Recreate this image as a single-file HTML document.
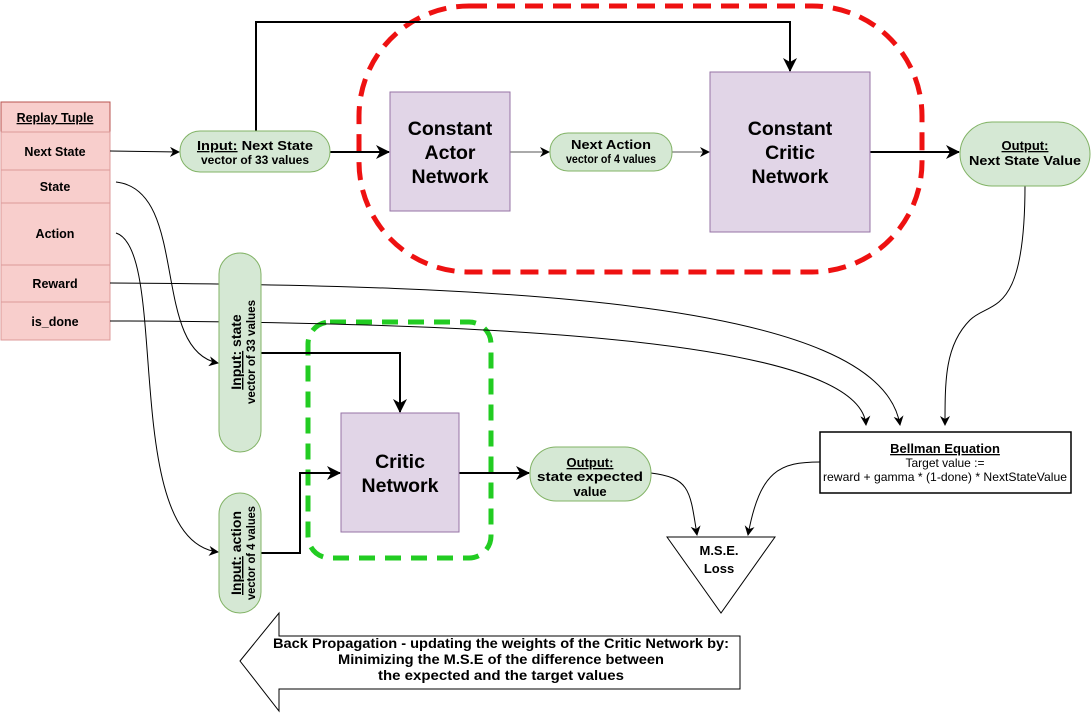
<!DOCTYPE html>
<html><head><meta charset="utf-8"><style>
html,body{margin:0;padding:0;background:#fff;}
svg{display:block;font-family:"Liberation Sans",Arial,sans-serif;}
</style></head><body>
<svg width="1091" height="713" viewBox="0 0 1091 713" xmlns="http://www.w3.org/2000/svg">
<defs>
<marker id="a" markerWidth="10" markerHeight="10" refX="9" refY="5" orient="auto" markerUnits="userSpaceOnUse"><path d="M0,0 L10,5 L0,10 L3,5 z" fill="#000"/></marker>
<marker id="b" markerWidth="14" markerHeight="14" refX="13" refY="7" orient="auto" markerUnits="userSpaceOnUse"><path d="M0,0 L14,7 L0,14 L4,7 z" fill="#000"/></marker>
</defs>

<rect x="359" y="6" width="563" height="266" rx="110" fill="none" stroke="#ee1111" stroke-width="5" stroke-dasharray="18,10"/>
<rect x="308" y="322" width="183" height="236" rx="22" fill="none" stroke="#22cc22" stroke-width="5" stroke-dasharray="16,10"/>

<g stroke="#d99" fill="#f8cecc" stroke-width="1">
<rect x="1" y="102" width="109" height="30" fill="#f8cecc" stroke="#b85450"/>
<rect x="1" y="132" width="109" height="38"/>
<rect x="1" y="170" width="109" height="33"/>
<rect x="1" y="203" width="109" height="62"/>
<rect x="1" y="265" width="109" height="37"/>
<rect x="1" y="302" width="109" height="38"/>
</g>
<g font-size="12.5" font-weight="bold" text-anchor="middle" fill="#000">
<text x="55" y="122" text-decoration="underline">Replay Tuple</text>
<text x="55" y="156">Next State</text>
<text x="55" y="191">State</text>
<text x="55" y="238">Action</text>
<text x="55" y="288">Reward</text>
<text x="55" y="326">is_done</text>
</g>

<g fill="none" stroke="#000" stroke-width="1">
<path d="M110,151 L179,152" marker-end="url(#a)"/>
<path d="M116,182 C190,190 150,350 218,363" marker-end="url(#a)"/>
<path d="M116,233 C170,250 120,540 218,552" marker-end="url(#a)"/>
<path d="M110,283 C500,285 880,300 900,425" marker-end="url(#a)"/>
<path d="M110,321 C500,322 860,340 866,425" marker-end="url(#a)"/>
<path d="M1025,185 C1025,320 990,300 970,320 C945,345 945,380 945,425" marker-end="url(#a)"/>
<path d="M510,152 L549,152" stroke="#555" marker-end="url(#a)"/>
<path d="M672,152 L709,152" stroke="#555" marker-end="url(#a)"/>
<path d="M820,462 C780,462 760,470 748,535" marker-end="url(#a)"/>
<path d="M651,473 C690,478 690,490 697,535" marker-end="url(#a)"/>
</g>
<g fill="none" stroke="#000" stroke-width="2">
<path d="M256,131 L256,22 L790,22 L790,71" marker-end="url(#b)"/>
<path d="M330,152 L389,152" marker-end="url(#b)"/>
<path d="M870,152 L959,152" marker-end="url(#b)"/>
<path d="M261,353 L400,353 L400,412" marker-end="url(#b)"/>
<path d="M261,553 L300,553 L300,473 L340,473" marker-end="url(#b)"/>
<path d="M459,473 L529,473" marker-end="url(#b)"/>
</g>

<g fill="#d5e8d4" stroke="#82b366" stroke-width="1">
<rect x="180" y="131" width="150" height="41" rx="20"/>
<rect x="550" y="133" width="122" height="38" rx="18"/>
<rect x="960" y="122" width="130" height="64" rx="32"/>
<rect x="219" y="253" width="42" height="199" rx="21"/>
<rect x="219" y="493" width="42" height="120" rx="21"/>
<rect x="530" y="447" width="121" height="54" rx="26"/>
</g>
<g font-size="13" font-weight="bold" text-anchor="middle" fill="#000" lengthAdjust="spacingAndGlyphs">
<text x="255" y="150" textLength="116" lengthAdjust="spacingAndGlyphs"><tspan text-decoration="underline">Input:</tspan> Next State</text>
<text x="255" y="164" font-size="12" textLength="108" lengthAdjust="spacingAndGlyphs">vector of 33 values</text>
<text x="611" y="149" textLength="80" lengthAdjust="spacingAndGlyphs">Next Action</text>
<text x="611" y="163" font-size="12" textLength="90" lengthAdjust="spacingAndGlyphs">vector of 4 values</text>
<text x="1025" y="150" text-decoration="underline">Output:</text>
<text x="1025" y="165" textLength="112" lengthAdjust="spacingAndGlyphs">Next State Value</text>
<text x="590" y="467" text-decoration="underline">Output:</text>
<text x="590" y="481" textLength="106" lengthAdjust="spacingAndGlyphs">state expected</text>
<text x="590" y="496">value</text>
<text transform="translate(241,352) rotate(-90)" font-size="14"><tspan text-decoration="underline">Input:</tspan> state</text>
<text transform="translate(255,352) rotate(-90)" font-size="12" textLength="104" lengthAdjust="spacingAndGlyphs">vector of 33 values</text>
<text transform="translate(241,553) rotate(-90)" font-size="14"><tspan text-decoration="underline">Input:</tspan> action</text>
<text transform="translate(255,553) rotate(-90)" font-size="12" textLength="94" lengthAdjust="spacingAndGlyphs">vector of 4 values</text>
</g>

<g fill="#e1d5e7" stroke="#9673a6" stroke-width="1">
<rect x="390" y="92" width="120" height="119"/>
<rect x="710" y="72" width="160" height="160"/>
<rect x="341" y="413" width="118" height="119"/>
</g>
<g font-size="19.5" font-weight="bold" text-anchor="middle" fill="#000">
<text x="450" y="135">Constant</text>
<text x="450" y="159">Actor</text>
<text x="450" y="183">Network</text>
<text x="790" y="135">Constant</text>
<text x="790" y="159">Critic</text>
<text x="790" y="183">Network</text>
<text x="400" y="468">Critic</text>
<text x="400" y="492">Network</text>
</g>

<rect x="820" y="432" width="251" height="61" fill="#fff" stroke="#000" stroke-width="1.5"/>
<text x="945" y="453" font-size="13" font-weight="bold" text-anchor="middle" text-decoration="underline">Bellman Equation</text>
<text x="945" y="467" font-size="12" text-anchor="middle">Target value :=</text>
<text x="945" y="481" font-size="12" text-anchor="middle" textLength="244" lengthAdjust="spacingAndGlyphs">reward + gamma * (1-done) * NextStateValue</text>

<path d="M667,537 L775,537 L721,613 Z" fill="#fff" stroke="#000" stroke-width="1"/>
<text x="719" y="555" font-size="13" font-weight="bold" text-anchor="middle">M.S.E.</text>
<text x="719" y="573" font-size="13" font-weight="bold" text-anchor="middle">Loss</text>

<path d="M240,661 L279,613 L279,636 L740,636 L740,689 L279,689 L279,711 Z" fill="#fff" stroke="#000" stroke-width="1"/>
<g font-size="13.5" font-weight="bold" text-anchor="middle">
<text x="501" y="648" textLength="456" lengthAdjust="spacingAndGlyphs">Back Propagation - updating the weights of the Critic Network by:</text>
<text x="501" y="664" textLength="326" lengthAdjust="spacingAndGlyphs">Minimizing the M.S.E of the difference between</text>
<text x="501" y="680" textLength="246" lengthAdjust="spacingAndGlyphs">the expected and the target values</text>
</g>
</svg>
</body></html>
